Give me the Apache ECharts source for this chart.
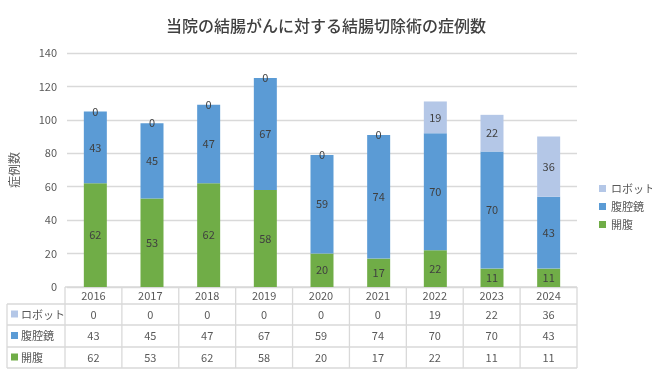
<!DOCTYPE html>
<html><head><meta charset="utf-8">
<script src="https://cdn.jsdelivr.net/npm/echarts@6/dist/echarts.min.js"></script>
<style>html,body{margin:0;padding:0;background:#fff}#c{width:652px;height:378px}</style>
</head><body><div id="c"></div>
<script>
const years = ['2016','2017','2018','2019','2020','2021','2022','2023','2024'];
const robot = [0,0,0,0,0,0,19,22,36];
const lap = [43,45,47,67,59,74,70,70,43];
const openS = [62,53,62,58,20,17,22,11,11];
const names = {robot:'ロボット', lap:'腹腔鏡', open:'開腹'};
const colors = {robot:'#B4C7E7', lap:'#5B9BD5', open:'#70AD47'};
const titleText = '当院の結腸がんに対する結腸切除術の症例数';
const yName = '症例数';

const FONT = '"Noto Sans CJK JP", "Noto Sans", sans-serif';
const TXT = '#595959';
const GRID_L = 65, GRID_R = 577, GRID_T = 53, GRID_B = 287;
const TBL_L = 7;
const rowsY = [287, 304, 325, 347, 368];
const cw = (GRID_R - GRID_L) / years.length;

const chart = echarts.init(document.getElementById('c'));

function labelCfg(){
  return {show:true, position:'inside', color:'#404040', fontSize:11, fontFamily:FONT};
}

const graphic = [];
const lineStyle = {stroke:'#d9d9d9', lineWidth:1.3};
graphic.push({type:'line', shape:{x1:GRID_L, y1:rowsY[0], x2:GRID_R, y2:rowsY[0]}, style:lineStyle});
for (let i=1;i<rowsY.length;i++){
  graphic.push({type:'line', shape:{x1:TBL_L, y1:rowsY[i], x2:GRID_R, y2:rowsY[i]}, style:lineStyle});
}
graphic.push({type:'line', shape:{x1:TBL_L, y1:rowsY[1], x2:TBL_L, y2:rowsY[4]}, style:lineStyle});
for (let i=0;i<=years.length;i++){
  const x = GRID_L + i*cw;
  graphic.push({type:'line', shape:{x1:x, y1:rowsY[0], x2:x, y2:rowsY[4]}, style:lineStyle});
}
years.forEach((y,i)=>{
  graphic.push({type:'text', x:GRID_L + (i+0.5)*cw, y:(rowsY[0]+rowsY[1])/2,
    style:{text:y, fill:TXT, font:'11px '+FONT, align:'center', verticalAlign:'middle'}});
});
const rows = [['robot', robot], ['lap', lap], ['open', openS]];
rows.forEach(([k, arr], r)=>{
  const cy = (rowsY[r+1]+rowsY[r+2])/2;
  graphic.push({type:'rect', shape:{x:11, y:cy-4, width:7, height:7}, style:{fill:colors[k]}});
  graphic.push({type:'text', x:21, y:cy, style:{text:names[k], fill:TXT, font:'11px '+FONT, align:'left', verticalAlign:'middle'}});
  arr.forEach((v,i)=>{
    graphic.push({type:'text', x:GRID_L + (i+0.5)*cw, y:cy,
      style:{text:String(v), fill:TXT, font:'11px '+FONT, align:'center', verticalAlign:'middle'}});
  });
});

chart.setOption({
  animation:false,
  backgroundColor:'#fff',
  textStyle:{fontFamily:FONT},
  title:{text:titleText, left:'center', top:13,
    textStyle:{fontSize:16, fontWeight:500, color:'#404040', fontFamily:FONT}},
  grid:{left:GRID_L, right:652-GRID_R, top:GRID_T, bottom:378-GRID_B, containLabel:false},
  legend:{orient:'vertical', left:594, top:178, itemWidth:7, itemHeight:7, itemGap:7,
    icon:'rect', data:[names.robot, names.lap, names.open],
    textStyle:{color:TXT, fontSize:11, fontFamily:FONT}},
  xAxis:{type:'category', data:years, axisLine:{show:false}, axisTick:{show:false},
    axisLabel:{show:false}},
  yAxis:{type:'value', min:0, max:140, interval:20,
    name:yName, nameLocation:'middle', nameGap:47, nameRotate:90,
    nameTextStyle:{color:TXT, fontSize:12, fontFamily:FONT},
    axisLabel:{color:TXT, fontSize:11, margin:10, fontFamily:FONT},
    splitLine:{lineStyle:{color:'#d9d9d9', width:1.3}}},
  series:[
    {name:names.open, type:'bar', stack:'t', data:openS, barWidth:23, itemStyle:{color:colors.open}, label:labelCfg()},
    {name:names.lap, type:'bar', stack:'t', data:lap, barWidth:23, itemStyle:{color:colors.lap}, label:labelCfg()},
    {name:names.robot, type:'bar', stack:'t', data:robot, barWidth:23, itemStyle:{color:colors.robot}, label:labelCfg()}
  ],
  graphic:graphic
});
</script></body></html>
